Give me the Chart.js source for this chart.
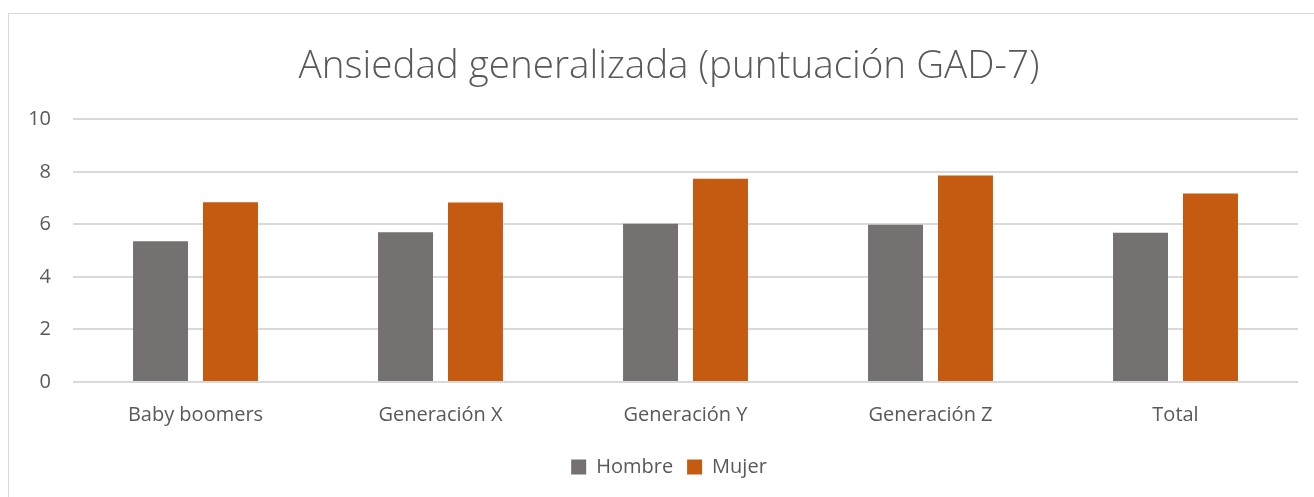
<!DOCTYPE html>
<html>
<head>
<meta charset="utf-8">
<script src="https://cdn.jsdelivr.net/npm/chart.js@4"></script>
<style>
  html, body { margin: 0; padding: 0; background: #fff; }
  #wrap { position: relative; width: 1314px; height: 497px; overflow: hidden; }
  #frame {
    position: absolute; left: 8px; top: 13px; width: 1320px; height: 500px;
    border: 1px solid #d9d9d9; box-sizing: border-box;
  }
  canvas { position: absolute; left: 0; top: 0; }
</style>
</head>
<body>
<div id="wrap">
  <div id="frame"></div>
  <canvas id="chart" width="1314" height="497"></canvas>
</div>
<script>
const categories = ["Baby boomers", "Generación X", "Generación Y", "Generación Z", "Total"];
const hombre = [5.36, 5.70, 6.02, 5.99, 5.68];
const mujer = [6.84, 6.83, 7.74, 7.86, 7.18];
const yTicks = [0, 2, 4, 6, 8, 10];

const textColor = "#595959";
const gridColor = "#d9d9d9";
const fontFamily = "'Open Sans', sans-serif";

const ctx = document.getElementById("chart");

new Chart(ctx, {
  type: "bar",
  data: {
    labels: categories,
    datasets: [
      {
        label: "Hombre",
        data: hombre,
        backgroundColor: "#767171",
        barPercentage: 0.786,
        categoryPercentage: 0.571,
      },
      {
        label: "Mujer",
        data: mujer,
        backgroundColor: "#c55a11",
        barPercentage: 0.786,
        categoryPercentage: 0.571,
      },
    ],
  },
  options: {
    responsive: false,
    animation: false,
    // title and legend are centred on the outer frame, not the plot
    layout: { padding: { left: 24, right: 0, top: 0, bottom: 10 } },
    plugins: {
      title: {
        display: true,
        text: "Ansiedad generalizada (puntuación GAD-7)",
        color: textColor,
        font: { family: fontFamily, size: 38.6, weight: "300" },
        padding: { top: 44, bottom: 29 },
      },
      legend: {
        position: "bottom",
        labels: {
          color: textColor,
          font: { family: fontFamily, size: 20 },
          boxWidth: 15,
          boxHeight: 15,
          padding: 14,
        },
      },
      tooltip: { enabled: false },
    },
    scales: {
      x: {
        grid: { display: false },
        border: { display: false },
        ticks: {
          color: textColor,
          font: { family: fontFamily, size: 20 },
          padding: 13,
        },
        afterFit: (scale) => { scale.height = 61; },
      },
      y: {
        min: 0,
        max: 10,
        afterBuildTicks: (scale) => {
          scale.ticks = yTicks.map((v) => ({ value: v }));
        },
        grid: { color: gridColor, lineWidth: 2, drawTicks: false },
        border: { display: false },
        ticks: {
          color: textColor,
          font: { family: fontFamily, size: 20 },
          padding: 22,
        },
        afterFit: (scale) => { scale.width = 49; },
      },
      // empty spacer on the right so the plot ends where the reference does
      spacer: {
        position: "right",
        min: 0,
        max: 10,
        grid: { display: false },
        border: { display: false },
        ticks: { display: false },
        afterFit: (scale) => { scale.width = 16; },
      },
    },
  },
});
</script>
</body>
</html>
